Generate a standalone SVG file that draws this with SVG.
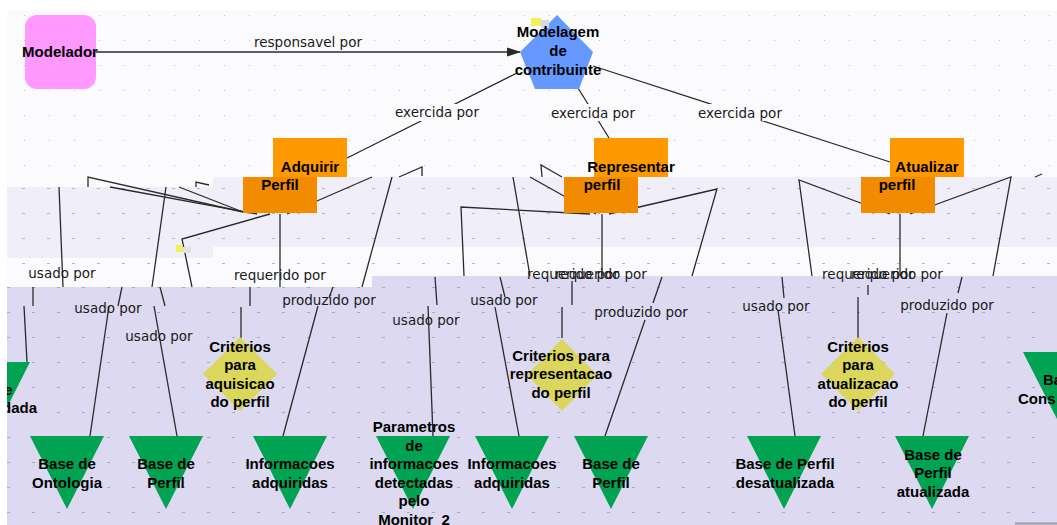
<svg xmlns="http://www.w3.org/2000/svg" width="1057" height="525" viewBox="0 0 1057 525">
<style>
.b1{fill:#efeef9}
.b3{fill:#dcd9f1}
.ln{fill:none;stroke:#2a2a2a;stroke-width:1.3}
.lb{font-family:"DejaVu Sans",sans-serif;font-size:13.5px;fill:#1a1a1a;text-anchor:middle}
.nt{font-family:"Liberation Sans",Arial,sans-serif;font-size:15px;font-weight:bold;fill:#000;text-anchor:middle}
.tri{fill:#00a352}
.dia{fill:#dbd75c}
.p1{fill:#ff9900}
.p2{fill:#f38b00}
.lbg{fill:#fbfbfe}
</style>
<defs>
<pattern id="g0" width="25" height="25" patternUnits="userSpaceOnUse"><rect x="24" y="15" width="3" height="1" fill="#bdbdcc"/></pattern>
<pattern id="g1" width="25" height="25" patternUnits="userSpaceOnUse"><rect x="22" y="13" width="3" height="1" fill="#b8b8c8"/></pattern>
<pattern id="g3" width="25" height="25" patternUnits="userSpaceOnUse"><rect x="7" y="12" width="3" height="1" fill="#a9a8c0"/></pattern>
<marker id="arr" markerWidth="14" markerHeight="10" refX="13" refY="5" orient="auto" markerUnits="userSpaceOnUse"><path d="M0,0.5 L14,5 L0,9.5 z" fill="#2a2a2a"/></marker>
<clipPath id="view"><rect x="7" y="0" width="1050" height="525"/></clipPath>
</defs>

<!-- drawing canvas with its grid -->
<g id="canvas">
<rect width="1057" height="525" fill="#fff"/>
<rect x="7" y="10" width="1050" height="515" fill="#fbfbfe"/>
<rect x="7" y="10" width="1050" height="177" fill="url(#g0)"/>
<rect x="7" y="187" width="206" height="71" class="b1"/>
<rect x="213" y="177" width="844" height="70" class="b1"/>
<rect x="7" y="177" width="1050" height="110" fill="url(#g1)"/>
<path d="M7 287 H372 V276 H1057 V525 H7 Z" class="b3"/>
<path d="M7 287 H372 V276 H1057 V525 H7 Z" fill="url(#g3)"/>
<line x1="1015" y1="523.5" x2="1057" y2="523.5" stroke="#9a9aa6" stroke-width="2"/>
</g>

<!-- connectors -->
<g id="connectors">
<path class="ln" d="M96 52 H520" marker-end="url(#arr)"/>
<text class="lb" x="308" y="47">responsavel por</text>

<path class="ln" d="M517 73 L347 158"/>
<path class="ln" d="M578 88 L609 138"/>
<path class="ln" d="M593 66 L890 162"/>
<rect class="lbg" x="395" y="104" width="84" height="17"/>
<rect class="lbg" x="551" y="104" width="84" height="17"/>
<rect class="lbg" x="698" y="104" width="84" height="17"/>
<text class="lb" x="437" y="117">exercida por</text>
<text class="lb" x="593" y="118">exercida por</text>
<text class="lb" x="740" y="118">exercida por</text>

<!-- upper segments -->
<path class="ln" d="M88 187 V177 L243 212"/>
<path class="ln" d="M110 187 L257 214"/>
<path class="ln" d="M179 187 L243 212"/>
<path class="ln" d="M196 187 V182 L209 185"/>
<path class="ln" d="M399 177 L422 167 V176"/>
<path class="ln" d="M542 177 L541 165 L562 177"/>
<path class="ln" d="M1035 177 L1042 174"/>

<path class="ln" d="M59 187 L63 287"/>
<path class="ln" d="M166 187 L152 287"/>
<path class="ln" d="M270 214 L182 239 L192 287"/>
<path class="ln" d="M280 214 V287"/>
<path class="ln" d="M287 214 L372 177"/>
<path class="ln" d="M392 177 L362 287"/>
<path class="ln" d="M590 214 L461 207 L464 276"/>
<path class="ln" d="M513 177 L530 276"/>
<path class="ln" d="M530 177 L596 214"/>
<path class="ln" d="M602 214 V276"/>
<path class="ln" d="M609 214 L717 189 L692 276"/>
<path class="ln" d="M890 214 L799 180 L812 276"/>
<path class="ln" d="M900 214 V276"/>
<path class="ln" d="M910 214 L1011 177 L993 276"/>

<!-- lower segments -->
<path class="ln" d="M33 287 V306"/>
<path class="ln" d="M122 287 L118 306"/>
<path class="ln" d="M160 287 L165 306"/>
<path class="ln" d="M250 287 V306"/>
<path class="ln" d="M333 287 L329 298"/>
<path class="ln" d="M435 277 L437 305"/>
<path class="ln" d="M500 277 L505 297"/>
<path class="ln" d="M572 281 V305"/>
<path class="ln" d="M662 277 L653 303"/>
<path class="ln" d="M782 277 L784 298"/>
<path class="ln" d="M868 285 V295"/>
<path class="ln" d="M962 277 L958 293"/>

<path class="ln" d="M24 306 L27 362"/>
<path class="ln" d="M109 306 L90 436"/>
<path class="ln" d="M154 306 L177 436"/>
<path class="ln" d="M241 307 V338"/>
<path class="ln" d="M318 306 L283 436"/>
<path class="ln" d="M428 306 L433 436"/>
<path class="ln" d="M495 307 L519 436"/>
<path class="ln" d="M562 307 V338"/>
<path class="ln" d="M645 320 L605 436"/>
<path class="ln" d="M778 310 L795 436"/>
<path class="ln" d="M858 297 V338"/>
<path class="ln" d="M947 313 L923 436"/>

<text class="lb" x="62" y="278">usado por</text>
<text class="lb" x="108" y="313">usado por</text>
<text class="lb" x="159" y="341">usado por</text>
<text class="lb" x="280" y="280">requerido por</text>
<text class="lb" x="329" y="305">produzido por</text>
<text class="lb" x="426" y="325">usado por</text>
<text class="lb" x="504" y="305">usado por</text>
<text class="lb" x="573" y="279">requerido por</text>
<text class="lb" x="601" y="279">requerido por</text>
<text class="lb" x="641" y="317">produzido por</text>
<text class="lb" x="776" y="311">usado por</text>
<text class="lb" x="868" y="279">requerido por</text>
<text class="lb" x="897" y="279">requerido por</text>
<text class="lb" x="947" y="310">produzido por</text>

<g id="link-marker">
<rect x="176" y="245" width="7" height="7" fill="#f4f05a"/>
<rect x="183" y="247" width="8" height="6" fill="#e0e0e8"/>
</g>
</g>

<!-- nodes -->
<g id="n-modelador">
<rect x="25" y="15" width="71" height="74" rx="12" fill="#ff99ff"/>
<text class="nt" x="60" y="57">Modelador</text>
</g>

<g id="n-modelagem">
<polygon points="557,15 593,52 579,89 535,89 520,52" fill="#6699ff"/>
<rect x="531" y="18" width="10" height="8" fill="#f4f05a"/>
<rect x="541" y="20" width="8" height="8" fill="#d5d8e8"/>
<text class="nt" x="558" y="37">Modelagem</text>
<text class="nt" x="558" y="56">de</text>
<text class="nt" x="558" y="75">contribuinte</text>
</g>

<g id="n-adquirir">
<rect class="p1" x="273" y="138" width="74" height="39"/>
<rect class="p2" x="243" y="177" width="74" height="36"/>
<text class="nt" x="310" y="172">Adquirir</text>
<text class="nt" x="280" y="190">Perfil</text>
</g>

<g id="n-representar">
<rect class="p1" x="594" y="138" width="74" height="39"/>
<rect class="p2" x="564" y="177" width="74" height="36"/>
<text class="nt" x="631" y="172">Representar</text>
<text class="nt" x="602" y="190">perfil</text>
</g>

<g id="n-atualizar">
<rect class="p1" x="890" y="138" width="74" height="39"/>
<rect class="p2" x="861" y="177" width="74" height="36"/>
<text class="nt" x="927" y="172">Atualizar</text>
<text class="nt" x="897" y="190">perfil</text>
</g>

<g id="n-left" clip-path="url(#view)">
<polygon class="tri" points="-44,362 30,362 -7,435"/>
<text class="nt" x="12.5" y="395" style="text-anchor:end">e</text>
<text class="nt" x="37" y="413" style="text-anchor:end">dada</text>
</g>

<g id="n-ontologia">
<polygon class="tri" points="30,436 104,436 67,509"/>
<text class="nt" x="67" y="469">Base de</text>
<text class="nt" x="67" y="487.5">Ontologia</text>
</g>

<g id="n-perfil-1">
<polygon class="tri" points="129,436 203,436 166,509"/>
<text class="nt" x="166" y="469">Base de</text>
<text class="nt" x="166" y="487.5">Perfil</text>
</g>

<g id="n-info-1">
<polygon class="tri" points="253,436 327,436 290,509"/>
<text class="nt" x="290" y="469">Informacoes</text>
<text class="nt" x="290" y="487.5">adquiridas</text>
</g>

<g id="n-crit-aquisicao">
<polygon class="dia" points="240,337 277,374 240,411 203,374"/>
<text class="nt" x="240" y="352">Criterios</text>
<text class="nt" x="240" y="370">para</text>
<text class="nt" x="240" y="388.5">aquisicao</text>
<text class="nt" x="240" y="407">do perfil</text>
</g>

<g id="n-parametros">
<polygon class="tri" points="376,436 450,436 413,509"/>
<text class="nt" x="414" y="432">Parametros</text>
<text class="nt" x="414" y="450.5">de</text>
<text class="nt" x="414" y="469">informacoes</text>
<text class="nt" x="414" y="487.5">detectadas</text>
<text class="nt" x="414" y="506">pelo</text>
<text class="nt" x="414" y="524.5">Monitor_2</text>
</g>

<g id="n-info-2">
<polygon class="tri" points="475,436 549,436 512,509"/>
<text class="nt" x="512" y="469">Informacoes</text>
<text class="nt" x="512" y="487.5">adquiridas</text>
</g>

<g id="n-crit-representacao">
<polygon class="dia" points="562,339 597,375 562,411 527,375"/>
<text class="nt" x="561" y="361">Criterios para</text>
<text class="nt" x="561" y="379">representacao</text>
<text class="nt" x="561" y="397.5">do perfil</text>
</g>

<g id="n-perfil-2">
<polygon class="tri" points="574,436 648,436 611,509"/>
<text class="nt" x="611" y="469">Base de</text>
<text class="nt" x="611" y="487.5">Perfil</text>
</g>

<g id="n-desatualizada">
<polygon class="tri" points="747,436 821,436 784,509"/>
<text class="nt" x="785" y="469">Base de Perfil</text>
<text class="nt" x="785" y="487.5">desatualizada</text>
</g>

<g id="n-crit-atualizacao">
<polygon class="dia" points="858,337 895,374 858,411 821,374"/>
<text class="nt" x="858" y="352">Criterios</text>
<text class="nt" x="858" y="370">para</text>
<text class="nt" x="858" y="388.5">atualizacao</text>
<text class="nt" x="858" y="407">do perfil</text>
</g>

<g id="n-atualizada">
<polygon class="tri" points="895,436 969,436 932,509"/>
<text class="nt" x="933" y="459.5">Base de</text>
<text class="nt" x="933" y="478">Perfil</text>
<text class="nt" x="933" y="496.5">atualizada</text>
</g>

<g id="n-right">
<polygon class="tri" points="1023,352 1097,352 1060,425"/>
<text class="nt" x="1043" y="385" style="text-anchor:start">Ba</text>
<text class="nt" x="1018" y="404" style="text-anchor:start">Cons</text>
</g>
</svg>
